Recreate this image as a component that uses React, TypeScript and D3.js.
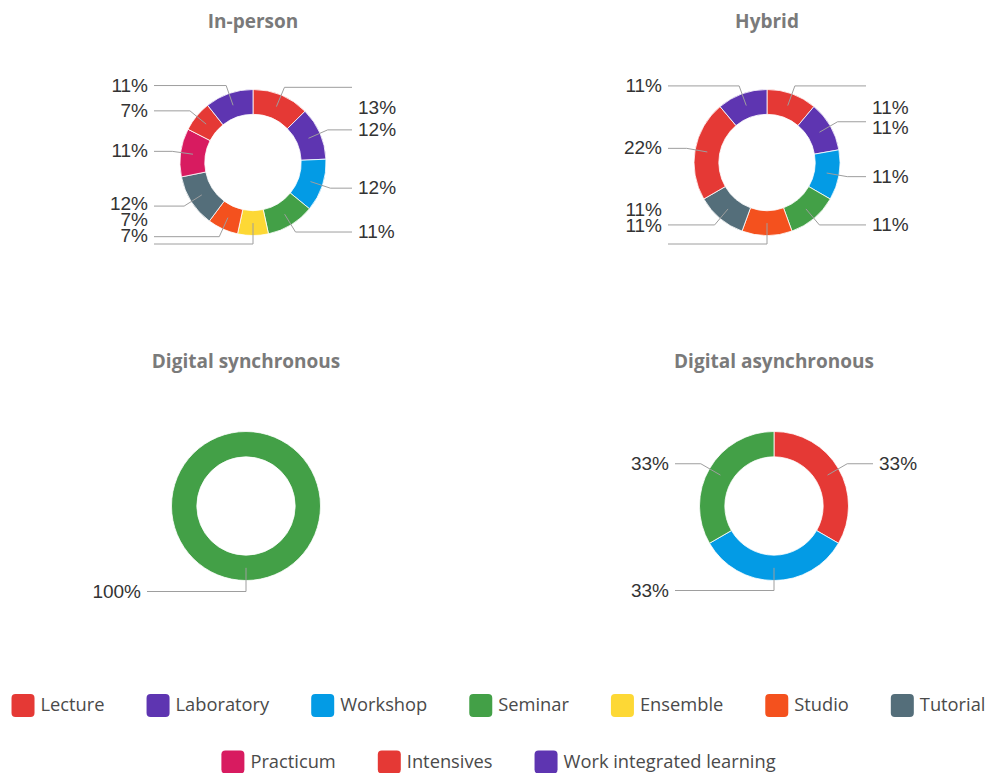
import React from 'react';
import * as d3 from 'd3';

const categories = [
  'Lecture', 'Laboratory', 'Workshop', 'Seminar', 'Ensemble',
  'Studio', 'Tutorial', 'Practicum', 'Intensives', 'Work integrated learning',
];
const palette = [
  '#E53935', '#5E35B1', '#039BE5', '#43A047', '#FDD835',
  '#F4511E', '#546E7A', '#D81B60', '#E53935', '#5E35B1',
];
const chartTitles = ['In-person', 'Hybrid', 'Digital synchronous', 'Digital asynchronous'];
const inPersonValues = [13, 12, 12, 11, 7, 7, 12, 11, 7, 11];
const hybridValues = [1, 1, 1, 1, 0, 1, 1, 0, 2, 1];
const digitalSyncValues = [0, 0, 0, 1, 0, 0, 0, 0, 0, 0];
const digitalAsyncValues = [1, 0, 1, 1, 0, 0, 0, 0, 0, 0];
const legendRows = [[0, 1, 2, 3, 4, 5, 6], [7, 8, 9]];

const W = 990;
const H = 773;
const LABEL_FONT = '"Liberation Sans", Arial, sans-serif';
const UI_FONT = '"Open Sans", "Noto Sans", sans-serif';

const panels = [
  { title: chartTitles[0], values: inPersonValues, cx: 253, cy: 162.5, r: 73, titleY: 23, elbow: 8.5, bottom: 73 },
  { title: chartTitles[1], values: hybridValues, cx: 767, cy: 162.5, r: 73, titleY: 23, elbow: 8.5, bottom: 63.5 },
  { title: chartTitles[2], values: digitalSyncValues, cx: 246, cy: 506, r: 74.5, titleY: 363, elbow: 11, bottom: 95 },
  { title: chartTitles[3], values: digitalAsyncValues, cx: 774, cy: 506, r: 74.5, titleY: 363, elbow: 10, bottom: 95 },
];

type Item = { idx: number; v: number };

function layoutSide(labels: any[], top: number, bottom: number, gap: number) {
  const s = labels.slice().sort((a, b) => a.ly - b.ly);
  for (let i = 0; i < s.length; i++) {
    let y = Math.max(s[i].ly, top);
    if (i > 0) y = Math.max(y, s[i - 1].ty + gap);
    s[i].ty = y;
  }
  for (let i = s.length - 1; i >= 0; i--) {
    let y = Math.min(s[i].ty, bottom);
    if (i < s.length - 1) y = Math.min(y, s[i + 1].ty - gap);
    s[i].ty = y;
  }
}

function Donut({ p }: { p: any }) {
  const items: Item[] = p.values.map((v: number, idx: number) => ({ idx, v })).filter((d: Item) => d.v > 0);
  const total = d3.sum(items, (d) => d.v);
  const pie = d3.pie<Item>().sort(null).value((d) => d.v);
  const arcs = pie(items);
  const inner = p.r * 0.66;
  const arc = d3.arc<d3.PieArcDatum<Item>>().innerRadius(inner).outerRadius(p.r);
  const midR = (inner + p.r) / 2;
  const midArc = d3.arc<d3.PieArcDatum<Item>>().innerRadius(midR).outerRadius(midR);
  const elbowArc = d3.arc<d3.PieArcDatum<Item>>().innerRadius(p.r + p.elbow).outerRadius(p.r + p.elbow);
  const fmt = (v: number) => `${Math.round((v / total) * 100)}%`;

  const labels = arcs.map((a) => {
    const mid = (a.startAngle + a.endAngle) / 2;
    const right = mid < Math.PI - 1e-6;
    const [sx, sy] = midArc.centroid(a);
    const [ex, ey] = elbowArc.centroid(a);
    const lx = right ? 99 : -99;
    return { a, right, sx, sy, ex, ey, lx, ly: ey, ty: ey, text: fmt(a.data.v) };
  });
  layoutSide(labels.filter((l) => l.right), -55, p.bottom, 20);
  layoutSide(labels.filter((l) => !l.right), -200, p.bottom, 16);

  return (
    <g transform={`translate(${p.cx},${p.cy})`}>
      <text
        x={0}
        y={p.titleY - p.cy}
        textAnchor="middle"
        dominantBaseline="middle"
        fontFamily={UI_FONT}
        fontWeight={700}
        fontSize={19}
        fill="#7a7a7a"
      >
        {p.title}
      </text>
      {arcs.map((a, i) => (
        <path key={i} d={arc(a) || ''} fill={palette[a.data.idx]} stroke="#fff" strokeWidth={0.8} />
      ))}
      {labels.map((l, i) => (
        <g key={i}>
          <polyline
            points={`${l.sx},${l.sy} ${l.ex},${l.ey} ${l.lx},${l.ey}`}
            fill="none"
            stroke="#9e9e9e"
            strokeWidth={1}
          />
          <text
            x={l.right ? l.lx + 6 : l.lx - 6}
            y={l.ty + 1}
            textAnchor={l.right ? 'start' : 'end'}
            dominantBaseline="middle"
            fontFamily={LABEL_FONT}
            fontSize={19}
            fill="#333"
          >
            {l.text}
          </text>
        </g>
      ))}
    </g>
  );
}

function measure(text: string, font: string) {
  const c = document.createElement('canvas').getContext('2d');
  if (!c) return text.length * 9;
  c.font = font;
  return c.measureText(text).width;
}

function Legend() {
  const fontSize = 18.3;
  const font = `${fontSize}px ${UI_FONT}`;
  const rowYs = [705.5, 762];
  const centerX = 498.5;
  const sq = 23;
  const textOff = 29;
  const gap = 42;
  return (
    <g>
      {legendRows.map((row, ri) => {
        const widths = row.map((i) => measure(categories[i], font));
        const total = d3.sum(widths) + row.length * textOff + (row.length - 1) * gap;
        let x = centerX - total / 2;
        return row.map((i, k) => {
          const x0 = x;
          x += textOff + widths[k] + gap;
          return (
            <g key={`${ri}-${i}`}>
              <rect x={x0} y={rowYs[ri] - sq / 2} width={sq} height={sq} rx={4} fill={palette[i]} />
              <text
                x={x0 + textOff}
                y={rowYs[ri] + 1}
                dominantBaseline="middle"
                fontFamily={UI_FONT}
                fontSize={fontSize}
                fill="#4a4a4a"
              >
                {categories[i]}
              </text>
            </g>
          );
        });
      })}
    </g>
  );
}

export default function App() {
  return (
    <svg
      width={W}
      height={H}
      viewBox={`0 0 ${W} ${H}`}
      style={{ position: 'absolute', left: 0, top: 0, background: '#fff' }}
    >
      {panels.map((p, i) => (
        <Donut key={i} p={p} />
      ))}
      <Legend />
    </svg>
  );
}
